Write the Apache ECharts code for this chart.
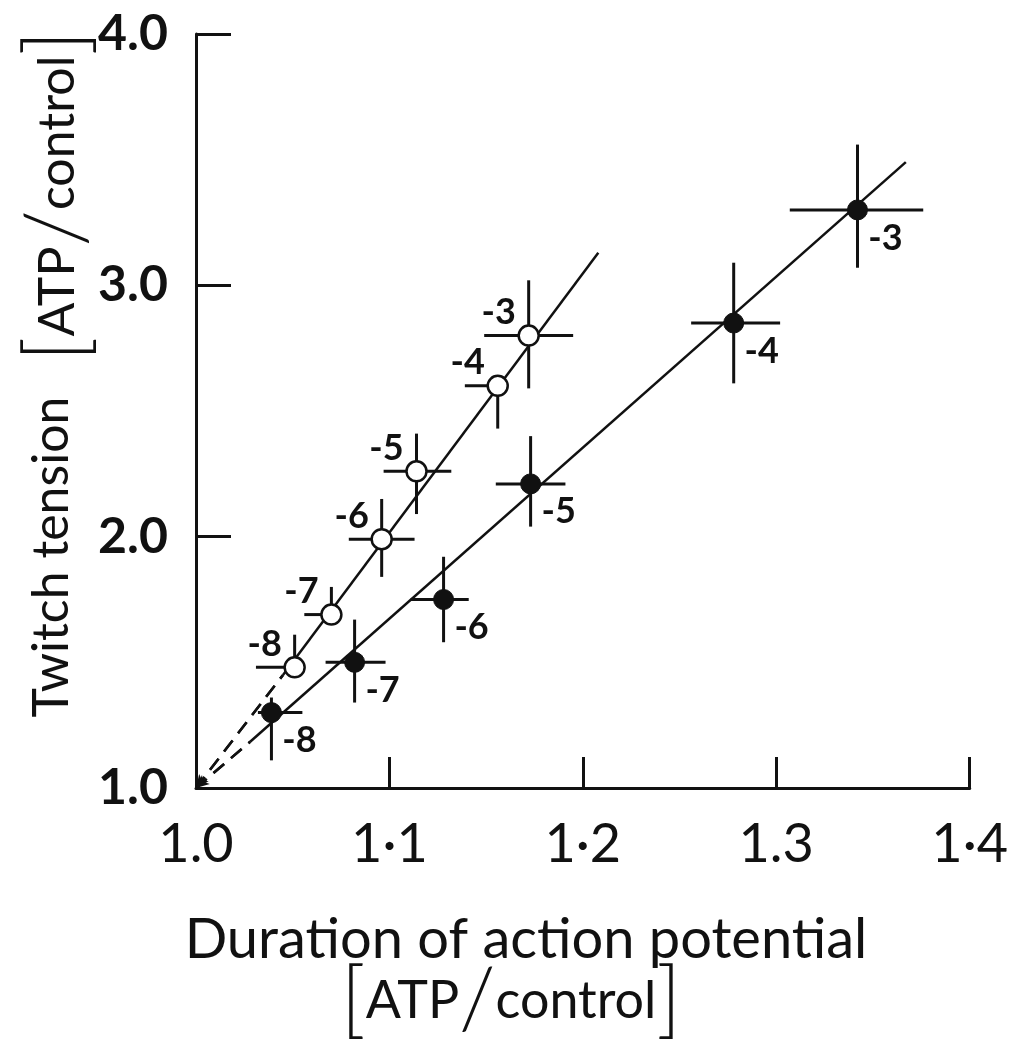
<!DOCTYPE html>
<html>
<head>
<meta charset="utf-8">
<script src="https://cdn.jsdelivr.net/npm/echarts@6/dist/echarts.min.js"></script>
<style>
html,body{margin:0;padding:0;background:#fff;}
#chart{width:1011px;height:1048px;}
</style>
</head>
<body>
<div id="chart"></div>
<script>
// ---- data ----
const pointLabels = ['-3', '-4', '-5', '-6', '-7', '-8'];

// open circles
const openX    = [1.172, 1.156, 1.114, 1.096, 1.070, 1.051];
const openY    = [2.80, 2.60, 2.26, 1.99, 1.69, 1.48];
const openXLo  = [1.149, 1.139, 1.097, 1.079, 1.056, 1.031];
const openXHi  = [1.195, 1.156, 1.132, 1.113, 1.070, 1.051];
const openYLo  = [2.59, 2.43, 2.09, 1.84, 1.69, 1.48];
const openYHi  = [3.02, 2.60, 2.41, 2.15, 1.80, 1.61];

// filled circles
const filledX   = [1.342, 1.278, 1.173, 1.128, 1.082, 1.039];
const filledY   = [3.30, 2.85, 2.21, 1.75, 1.50, 1.30];
const filledXLo = [1.307, 1.256, 1.155, 1.111, 1.067, 1.032];
const filledXHi = [1.376, 1.302, 1.191, 1.141, 1.098, 1.055];
const filledYLo = [3.07, 2.61, 2.04, 1.58, 1.34, 1.11];
const filledYHi = [3.56, 3.09, 2.40, 1.92, 1.67, 1.36];

// fitted lines
const openLineSolid    = [[1.045, 1.45], [1.208, 3.13]];
const openLineDashed   = [[1.0, 1.0], [1.045, 1.45]];
const filledLineSolid  = [[1.028, 1.184], [1.367, 3.49]];
const filledLineDashed = [[1.0, 1.0], [1.028, 1.184]];

// axis tick labels
const xTickValues = [1.0, 1.1, 1.2, 1.3, 1.4];
const xTickLabels = ['1.0', '1·1', '1·2', '1.3', '1·4'];
const yTickValues = [1, 2, 3, 4];
const yTickLabels = ['1.0', '2.0', '3.0', '4.0'];

// ---- chart ----
const INK = '#111';
const FONT = 'Lato, "Open Sans", sans-serif';

function rows(x, y, xl, xh, yl, yh) {
  return x.map((v, i) => [v, y[i], xl[i], xh[i], yl[i], yh[i]]);
}
function labelFor(vals, labels, v) {
  let best = 0;
  vals.forEach((t, i) => { if (Math.abs(t - v) < Math.abs(vals[best] - v)) best = i; });
  return labels[best];
}
function errRender(params, api) {
  const x = api.value(0), y = api.value(1);
  const pL = api.coord([api.value(2), y]);
  const pR = api.coord([api.value(3), y]);
  const pB = api.coord([x, api.value(4)]);
  const pT = api.coord([x, api.value(5)]);
  const st = { stroke: INK, lineWidth: 3 };
  return {
    type: 'group',
    children: [
      { type: 'line', shape: { x1: pL[0], y1: pL[1], x2: pR[0], y2: pR[1] }, style: st },
      { type: 'line', shape: { x1: pB[0], y1: pB[1], x2: pT[0], y2: pT[1] }, style: st }
    ]
  };
}

const chart = echarts.init(document.getElementById('chart'), null, { renderer: 'canvas' });

const lineStyleSolid = { color: INK, width: 2.5 };
const lineStyleDash = { color: INK, width: 2.5, type: [14, 9] };
const bracketRich = (t) => ({
  b: { fontFamily: FONT, fontSize: 84, fontWeight: 300, fill: INK, verticalAlign: 'middle' },
  s: { fontFamily: FONT, fontSize: 84, fontWeight: 300, fill: INK, verticalAlign: 'middle' },
  t: { fontFamily: FONT, fontSize: t, fill: INK, verticalAlign: 'middle' }
});
const arrowMark = (seg) => ({
  silent: true, symbol: ['arrow', 'none'], symbolSize: [9, 13], label: { show: false },
  lineStyle: { color: INK, width: 2.5, type: [14, 9], opacity: 1 },
  data: [[{ coord: seg[0] }, { coord: seg[1] }]]
});

chart.setOption({
  backgroundColor: '#fff',
  animation: false,
  grid: { left: 196, top: 34, width: 786, height: 754, containLabel: false },
  xAxis: {
    type: 'value', min: 1.0, max: 1.4, interval: 0.1,
    axisLine: { show: true, lineStyle: { color: INK, width: 3 } },
    axisTick: { show: true, inside: true, length: 31, lineStyle: { color: INK, width: 3 } },
    splitLine: { show: false },
    axisLabel: {
      margin: 30, color: INK, fontFamily: FONT, fontSize: 54, fontWeight: 'normal',
      formatter: v => labelFor(xTickValues, xTickLabels, v)
    }
  },
  yAxis: {
    type: 'value', min: 1, max: 4, interval: 1,
    axisLine: { show: true, lineStyle: { color: INK, width: 3 } },
    axisTick: { show: true, inside: true, length: 35, lineStyle: { color: INK, width: 3 } },
    splitLine: { show: false },
    axisLabel: {
      margin: 28, color: INK, fontFamily: FONT, fontSize: 50, fontWeight: 'bold',
      formatter: v => labelFor(yTickValues, yTickLabels, v)
    }
  },
  graphic: [
    {
      type: 'text', x: 526, y: 940, z: 10,
      style: { text: 'Duration of action potential', fill: INK, font: '56px ' + FONT, align: 'center', verticalAlign: 'middle' }
    },
    {
      type: 'text', x: 511, y: 1001, z: 10,
      style: { text: '{b|[}{t|ATP}{s|/}{t|control}{b|]}', align: 'center', verticalAlign: 'middle', rich: bracketRich(52) }
    },
    {
      type: 'text', x: 52, y: 557, rotation: Math.PI / 2, z: 10,
      style: { text: 'Twitch tension', fill: INK, font: '50px ' + FONT, align: 'center', verticalAlign: 'middle' }
    },
    {
      type: 'text', x: 58, y: 196, rotation: Math.PI / 2, z: 10,
      style: { text: '{b|[}{t|ATP}{s|/}{t|control}{b|]}', align: 'center', verticalAlign: 'middle', rich: bracketRich(50) }
    }
  ],
  series: [
    { type: 'line', data: openLineSolid, symbol: 'none', lineStyle: lineStyleSolid, z: 2, silent: true },
    { type: 'line', data: filledLineSolid, symbol: 'none', lineStyle: lineStyleSolid, z: 2, silent: true },
    { type: 'line', data: openLineDashed, symbol: 'none', lineStyle: lineStyleDash, z: 2, silent: true,
      markLine: arrowMark(openLineDashed) },
    { type: 'line', data: filledLineDashed, symbol: 'none', lineStyle: lineStyleDash, z: 2, silent: true,
      markLine: arrowMark(filledLineDashed) },
    {
      type: 'custom', renderItem: errRender, encode: { x: 0, y: 1 }, z: 3, silent: true,
      data: rows(openX, openY, openXLo, openXHi, openYLo, openYHi)
    },
    {
      type: 'custom', renderItem: errRender, encode: { x: 0, y: 1 }, z: 3, silent: true,
      data: rows(filledX, filledY, filledXLo, filledXHi, filledYLo, filledYHi)
    },
    {
      type: 'scatter', data: openX.map((v, i) => [v, openY[i]]), z: 5,
      symbol: 'circle', symbolSize: 20,
      itemStyle: { color: '#fff', borderColor: INK, borderWidth: 2.5, opacity: 1 },
      label: {
        show: true, position: 'inside', offset: [-30, -23],
        formatter: p => pointLabels[p.dataIndex],
        color: INK, fontFamily: FONT, fontSize: 36, fontWeight: 'bold'
      }
    },
    {
      type: 'scatter', data: filledX.map((v, i) => [v, filledY[i]]), z: 5,
      symbol: 'circle', symbolSize: 20,
      itemStyle: { color: INK, borderColor: INK, borderWidth: 1, opacity: 1 },
      label: {
        show: true, position: 'inside', offset: [28, 28],
        formatter: p => pointLabels[p.dataIndex],
        color: INK, fontFamily: FONT, fontSize: 36, fontWeight: 'bold'
      }
    }
  ]
});
</script>
</body>
</html>
